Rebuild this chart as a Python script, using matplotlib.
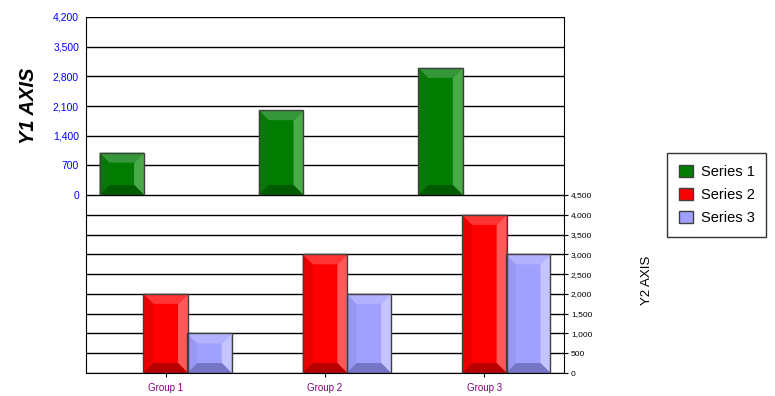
import matplotlib.pyplot as plt
from matplotlib.patches import Polygon, Patch
import numpy as np

plt.rcParams['font.family'] = ['Liberation Sans', 'DejaVu Sans']

groups = ["Group 1", "Group 2", "Group 3"]
series1 = [1000, 2000, 3000]   # Y1 axis (top panel)
series2 = [2000, 3000, 4000]   # Y2 axis (bottom panel)
series3 = [1000, 2000, 3000]   # Y2 axis (bottom panel)
y1_ticks = [0, 700, 1400, 2100, 2800, 3500, 4200]
y2_ticks = [0, 500, 1000, 1500, 2000, 2500, 3000, 3500, 4000, 4500]

# face, left, right, top, bottom
shades = {
    "Series 1": ["#007c00", "#087808", "#4aaa4a", "#36963a", "#005a00"],
    "Series 2": ["#ff0000", "#ea0000", "#ff5858", "#ff3434", "#b80000"],
    "Series 3": ["#a0a0ff", "#9898f4", "#c4c4ff", "#b2b2ff", "#7676c6"],
}

fig = plt.figure(figsize=(7.75, 3.96), dpi=100)
ax1 = fig.add_axes([86 / 775, 1 - 195 / 396, 478 / 775, 178 / 396])
ax2 = fig.add_axes([86 / 775, 1 - 373 / 396, 478 / 775, 178 / 396])

x = np.arange(len(groups))
w = 0.28


def bevel_bar(ax, xc, h, name, d=10):
    face, left, right, top, bottom = shades[name]
    x0, x1 = xc - w / 2, xc + w / 2
    # pixel -> data sizes
    inv = ax.transData.inverted()
    p0 = inv.transform(ax.transData.transform((0, 0)))
    p1 = inv.transform(ax.transData.transform((0, 0)) + np.array([d, d]))
    dx, dy = p1 - p0
    dy = min(dy, h / 2)
    dx = min(dx, w / 2)
    ax.add_patch(Polygon([(x0, 0), (x1, 0), (x1, h), (x0, h)], closed=True,
                         facecolor=face, edgecolor="none", zorder=2))
    ix0, ix1, iy0, iy1 = x0 + dx, x1 - dx, dy, h - dy
    polys = [
        ([(x0, 0), (x0, h), (ix0, iy1), (ix0, iy0)], left),
        ([(x1, 0), (x1, h), (ix1, iy1), (ix1, iy0)], right),
        ([(x0, h), (x1, h), (ix1, iy1), (ix0, iy1)], top),
        ([(x0, 0), (x1, 0), (ix1, iy0), (ix0, iy0)], bottom),
    ]
    for pts, c in polys:
        ax.add_patch(Polygon(pts, closed=True, facecolor=c, edgecolor="none", zorder=2))
    ax.add_patch(Polygon([(x0, 0), (x1, 0), (x1, h), (x0, h)], closed=True,
                         facecolor="none", edgecolor="#404040", lw=1, zorder=3))


for ax, lim, ticks in [(ax1, 4200, y1_ticks), (ax2, 4500, y2_ticks)]:
    ax.set_xlim(-0.5, 2.5)
    ax.set_ylim(0, lim)
    ax.set_yticks(ticks)
    ax.set_axisbelow(True)
    ax.yaxis.grid(True, color="black", lw=1)
    for s in ["top", "bottom"]:
        ax.spines[s].set_visible(False)
    ax.spines["left"].set_color("black")
    ax.spines["right"].set_color("black")

for i in range(len(groups)):
    bevel_bar(ax1, x[i] - 0.275, series1[i], "Series 1")
    bevel_bar(ax2, x[i], series2[i], "Series 2")
    bevel_bar(ax2, x[i] + 0.275, series3[i], "Series 3")

ax1.set_xticks([])
ax1.set_yticklabels([f"{v:,}" for v in y1_ticks], color="blue", fontsize=7.5)
ax1.tick_params(axis="y", length=0, pad=5)

ax2.spines["bottom"].set_visible(True)
ax2.yaxis.tick_right()
ax2.set_yticklabels([f"{v:,}" for v in y2_ticks], fontsize=6)
ax2.tick_params(axis="y", length=3, pad=2)
ax2.set_xticks(x)
ax2.set_xticklabels(groups, color="#800080", fontsize=7)
ax2.tick_params(axis="x", length=3, pad=4)

fig.text(28 / 775, 1 - 106 / 396, "Y1 AXIS", rotation=90, fontsize=14.5,
         fontweight="bold", fontstyle="italic", ha="center", va="center")
fig.text(647 / 775, 1 - 280 / 396, "Y2 AXIS", rotation=90, fontsize=9.5,
         ha="center", va="center")

handles = [Patch(facecolor=shades[n][0], edgecolor="#404040", label=n)
           for n in ["Series 1", "Series 2", "Series 3"]]
leg = fig.legend(handles=handles, loc="upper left", bbox_to_anchor=(667 / 775, 1 - 153 / 396),
                 frameon=True, fancybox=False, edgecolor="black", fontsize=10.5,
                 handlelength=0.95, handleheight=0.95, handletextpad=0.55,
                 labelspacing=0.6, borderpad=0.8, borderaxespad=0)
leg.get_frame().set_linewidth(1)

fig.savefig("out.png", dpi=100)
